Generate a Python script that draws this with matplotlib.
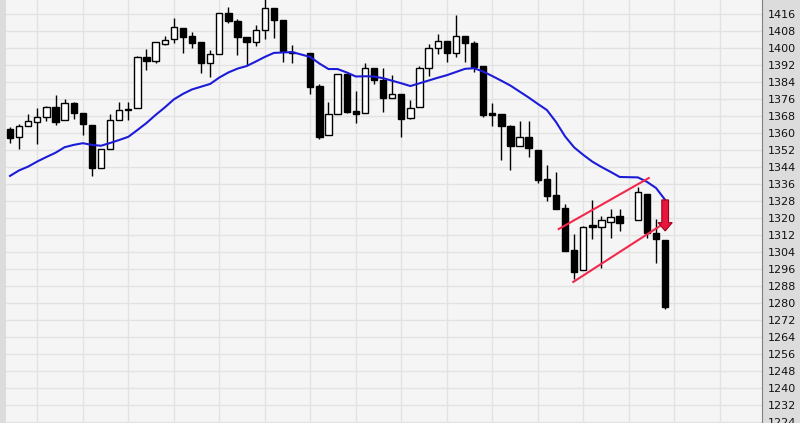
import numpy as np
import matplotlib.pyplot as plt
from matplotlib.patches import FancyArrow

nan = np.nan

opens = [1362, 1358, 1363.3, 1365.2, 1367.5, 1372.2, 1366.1, 1374.1, 1369.4, 1363.8,
         1343.5, 1352.5, 1366.1, 1371.3, 1371.8, 1395.8, 1393.9, 1401.9, 1404.2, 1409.4,
         1405.7, 1402.8, 1393.0, 1397.2, 1416.5, 1412.7, 1405.2, 1402.8, 1408.5, 1418.8,
         1413.2, 1398.1, nan, 1397.7, 1382.1, 1359.1, 1369.0, 1387.8, 1370.4, 1369.4,
         1390.6, 1385.0, 1376.5, 1378.4, 1367.1, 1372.2, 1390.6, 1400.0, 1403.3, 1397.7,
         1405.7, 1402.4, 1391.5, 1369.4, 1369.0, 1363.3, 1353.9, 1358.1, 1352.0, 1338.4,
         1330.8, 1324.7, 1305.0, 1295.5, 1316.7, 1315.8, 1318.1, 1321.0, nan, 1319.1,
         1331.3, 1313.0, 1309.7]
highs = [1363, 1364, 1369, 1371.8, 1372.7, 1377.9, 1376, 1374.6, 1369.4, 1363.8,
         1352.5, 1369.0, 1374.6, 1374.6, 1396.3, 1399.5, 1402.8, 1405.7, 1414.1, 1409.4,
         1407.5, 1402.8, 1399.1, 1416.5, 1419.3, 1413.7, 1405.2, 1410.8, 1423.5, 1418.8,
         1413.2, 1401.4, nan, 1397.7, 1383.1, 1374.6, 1387.8, 1387.8, 1379.8, 1393.0,
         1390.6, 1390.6, 1387.3, 1378.4, 1375.5, 1391.5, 1401.9, 1406.6, 1403.3, 1415.5,
         1405.7, 1403.3, 1391.5, 1374.1, 1369.0, 1363.8, 1365.7, 1365.7, 1352.0, 1345.0,
         1341.7, 1326.6, 1312.5, 1316.2, 1328.5, 1321.0, 1324.2, 1324.2, nan, 1334.6,
         1331.3, 1319.5, 1309.7]
lows = [1355.3, 1352.5, 1363.3, 1354.8, 1365.7, 1363.8, 1366.1, 1366.6, 1359.1, 1339.8,
        1343.5, 1352.5, 1366.1, 1366.1, 1371.8, 1389.7, 1393.0, 1401.4, 1402.4, 1397.7,
        1400.0, 1388.2, 1386.4, 1397.2, 1411.8, 1396.7, 1392.0, 1401.0, 1404.2, 1404.7,
        1393.4, 1393.0, nan, 1378.4, 1357.2, 1359.1, 1369.0, 1369.4, 1364.7, 1369.4,
        1383.1, 1369.9, 1376.5, 1358.1, 1366.6, 1372.2, 1386.8, 1397.2, 1393.4, 1395.8,
        1393.4, 1388.7, 1367.5, 1363.3, 1347.3, 1342.6, 1353.9, 1348.7, 1336.5, 1328.0,
        1324.2, 1304.5, 1291.3, 1295.5, 1310.1, 1296.5, 1310.6, 1313.9, nan, 1319.1,
        1310.6, 1298.8, 1277.2]
closes = [1357.7, 1363.3, 1365.7, 1367.5, 1372.2, 1365.2, 1374.1, 1369.4, 1364.2, 1343.5,
          1352.5, 1366.1, 1370.8, 1370.8, 1395.8, 1393.9, 1402.8, 1403.8, 1409.9, 1405.2,
          1402.4, 1393.0, 1397.2, 1416.5, 1412.7, 1405.2, 1402.8, 1408.5, 1418.8, 1413.2,
          1398.6, 1397.7, nan, 1381.7, 1358.1, 1369.0, 1387.8, 1369.9, 1369.0, 1390.6,
          1385.0, 1376.5, 1378.4, 1366.6, 1371.8, 1390.6, 1400.0, 1403.3, 1397.7, 1405.7,
          1402.4, 1391.1, 1368.5, 1368.5, 1363.3, 1353.9, 1358.1, 1353.0, 1337.9, 1330.4,
          1324.2, 1304.5, 1294.6, 1315.8, 1315.8, 1319.1, 1320.5, 1317.7, nan, 1332.2,
          1313.0, 1310.1, 1278.1]
ma = [1339.8, 1342.4, 1344.2, 1346.6, 1348.7, 1350.7, 1353.3, 1354.4, 1355.2, 1354.4,
      1354.0, 1355.3, 1356.7, 1358.2, 1361.4, 1364.7, 1368.5, 1372.0, 1375.8, 1378.4,
      1380.5, 1381.8, 1383.1, 1386.1, 1388.5, 1390.3, 1391.5, 1393.6, 1395.8, 1397.7,
      1397.9, 1398.1, nan, 1395.8, 1392.7, 1390.1, 1390.1, 1388.5, 1386.6, 1386.7,
      1386.6, 1385.8, 1384.6, 1383.4, 1382.1, 1383.4, 1384.7, 1386.0, 1387.2, 1388.7,
      1390.2, 1390.5, 1388.9, 1386.8, 1384.6, 1382.3, 1379.5, 1376.7, 1373.7, 1370.8,
      1365.2, 1358.4, 1353.2, 1349.7, 1346.5, 1344.0, 1341.7, 1339.3, nan, 1339.1,
      1337.0, 1334.1, 1328.5]

# channel lines (slot, price)
upper_line = ([60.3, 70.2], [1314.8, 1338.8])
lower_line = ([61.9, 71.6], [1289.9, 1316.7])
arrow_slot, arrow_top, arrow_tip = 72, 1328.5, 1313.9

o = np.array(opens); h = np.array(highs); l = np.array(lows); c = np.array(closes)
x = np.arange(len(o))
ok = ~np.isnan(o)

fig = plt.figure(figsize=(8, 4.23), dpi=100, facecolor='#dcdcdc')
ax = fig.add_axes([6 / 800, 0, 756 / 800, 1])
ax.set_facecolor('#f5f5f5')

ax.vlines(x[ok], l[ok], h[ok], color='black', lw=1, zorder=3)
bottom = np.minimum(o, c)
height = np.maximum(np.abs(c - o), 0.5)
fills = np.where(c >= o, 'white', 'black')
ax.bar(x[ok], height[ok], bottom=bottom[ok], width=0.7, color=fills[ok],
       edgecolor='black', linewidth=1, zorder=4)

m = np.array(ma)
mk = ~np.isnan(m)
ax.plot(x[mk], m[mk], color='#1c1cd8', lw=1.5, zorder=5)

ax.plot(*upper_line, color='#f2284c', lw=1.5, zorder=6)
ax.plot(*lower_line, color='#f2284c', lw=1.5, zorder=6)
ax.add_patch(FancyArrow(arrow_slot, arrow_top, 0, arrow_tip - arrow_top, width=0.74,
                        head_width=1.55, head_length=3.9, length_includes_head=True,
                        facecolor='#e8163c', edgecolor='#a00018', lw=0.8, zorder=7))

ax.set_xlim(-0.44, 82.64)
ax.set_ylim(1223.5, 1422.6)
ax.set_yticks(np.arange(1224, 1417, 8))
ax.set_xticks(np.arange(3, 83, 5))
ax.set_xticklabels([])
ax.yaxis.tick_right()
ax.tick_params(length=0, labelsize=8, pad=4, labelcolor='#111111')
ax.grid(color='#e2e2e2', lw=1, zorder=0)
ax.set_axisbelow(True)
ax.text(1.0, 1424, '  1424', transform=ax.get_yaxis_transform(), va='center',
        ha='left', fontsize=8, color='#111111', clip_on=False)
for s in ['top', 'bottom', 'left']:
    ax.spines[s].set_visible(False)
ax.spines['right'].set_color('#808080')

fig.savefig('out.png', dpi=100, facecolor=fig.get_facecolor())
